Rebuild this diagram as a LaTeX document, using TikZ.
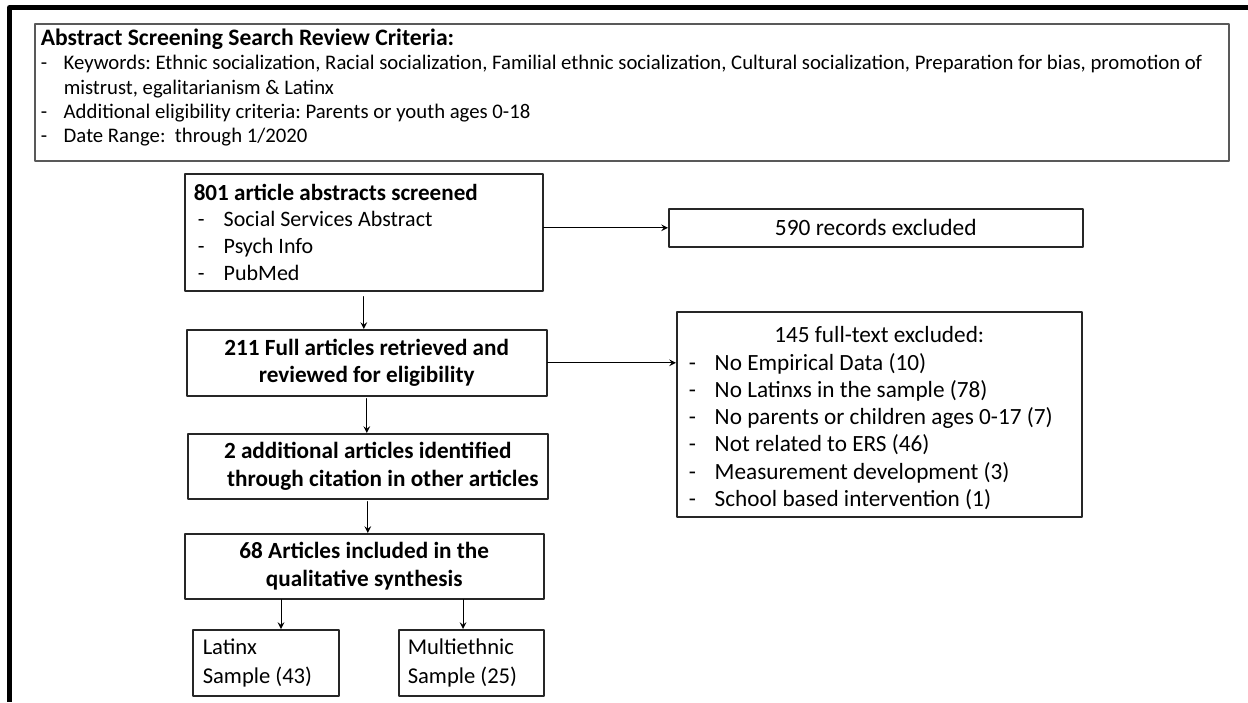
\documentclass[tikz,border=0pt]{standalone}
\usepackage{fontspec}
\setmainfont{Carlito}
\frenchspacing
\newcommand{\dashitem}[1]{\makebox[#1][l]{-}}

\begin{document}
\begin{tikzpicture}[x=0.5pt, y=-0.5pt, line join=round, line cap=round, >=stealth,
		box/.style={draw=black!85, line width=0.75pt, rectangle, inner sep=0pt, anchor=north west, font=\fontsize{11}{13.4}\selectfont},
		boldbox/.style={box, align=center, font=\fontsize{11.6}{13.9}\selectfont\bfseries},
		arr/.style={->, line width=0.5pt}]
		\useasboundingbox (0,0) rectangle (1248,702);
		\draw[line width=2.5pt, line cap=butt] (1248,7.5) -- (9.5,7.5) -- (9.5,702);
		\node[box, draw=black!65, minimum height=68.5pt, text width=591pt, inner xsep=3pt, align=flush left, font=\fontsize{10.37}{12.15}\selectfont] (crit) at (34,23) {{\fontsize{11.8}{12.15}\selectfont\bfseries Abstract Screening Search Review Criteria:}\\
			\dashitem{11.5pt}\mbox{Keywords: Ethnic socialization, Racial socialization, Familial ethnic socialization, Cultural socialization, Preparation for bias, promotion of}\\
			\hspace*{11.5pt}mistrust, egalitarianism \& Latinx\\
			\dashitem{11.5pt}Additional eligibility criteria: Parents or youth ages 0-18\\
			\dashitem{11.5pt}Date Range:\ \ through 1/2020\rule[-6.5pt]{0pt}{6.5pt}};
		\node[box, minimum height=58.5pt, text width=170pt, inner xsep=4.5pt, align=flush left] (scr) at (184,173) {{\fontsize{11.55}{13.4}\selectfont\bfseries 801 article abstracts screened}\\
			\hspace*{2pt}\dashitem{13pt}Social Services Abstract\\
			\hspace*{2pt}\dashitem{13pt}Psych Info\\
			\hspace*{2pt}\dashitem{13pt}PubMed};
		\node[box, minimum width=207pt, minimum height=19pt, font=\fontsize{11.7}{13.6}\selectfont] (rec) at (668,208) {590 records excluded};
		\node[boldbox, minimum width=180pt, minimum height=33pt] (full) at (186,329) {211 Full articles retrieved and\\reviewed for eligibility};
		\node[box, minimum height=102.5pt, text width=190.5pt, inner xsep=6pt, align=flush left, font=\fontsize{11.62}{13.65}\selectfont] (exc) at (676,311) {\rule{0pt}{12pt}\makebox[190.5pt]{145 full-text excluded:}\\
			\dashitem{13pt}No Empirical Data (10)\\
			\dashitem{13pt}No Latinxs in the sample (78)\\
			\dashitem{13pt}\mbox{No parents or children ages 0-17 (7)}\\
			\dashitem{13pt}Not related to ERS (46)\\
			\dashitem{13pt}Measurement development (3)\\
			\dashitem{13pt}School based intervention (1)};
		\node[boldbox, minimum width=180pt, minimum height=32.5pt] (add) at (187,433) {2 additional articles identified\\\hspace*{15pt}through citation in other articles};
		\node[boldbox, minimum width=179.5pt, minimum height=32.5pt] (incl) at (184,533) {68 Articles included in the\\qualitative synthesis};
		\node[box, minimum height=33pt, text width=63pt, inner xsep=5pt, align=flush left, font=\fontsize{11.3}{14.5}\selectfont] (lat) at (192,629) {Latinx\\Sample (43)};
		\node[box, minimum height=33pt, text width=63.5pt, inner xsep=4.5pt, align=flush left, font=\fontsize{11.3}{14.5}\selectfont] (mult) at (398,629) {Multiethnic\\Sample (25)};
		\draw[arr] (scr.east |- rec.west) -- (rec.west);
		\draw[arr] (full.east) -- (full.east -| exc.west);
		\draw[arr, shorten <=2.5pt] (scr.south) -- (scr.south |- full.north);
		\draw[arr, shorten <=1pt] (full.south) -- (full.south |- add.north);
		\draw[arr, shorten <=1pt] (add.south) -- (add.south |- incl.north);
		\draw[arr] ([xshift=44.5pt]lat.north west |- incl.south) -- ([xshift=44.5pt]lat.north west);
		\draw[arr] ([xshift=32.5pt]mult.north west |- incl.south) -- ([xshift=32.5pt]mult.north west);
\end{tikzpicture}
\end{document}
